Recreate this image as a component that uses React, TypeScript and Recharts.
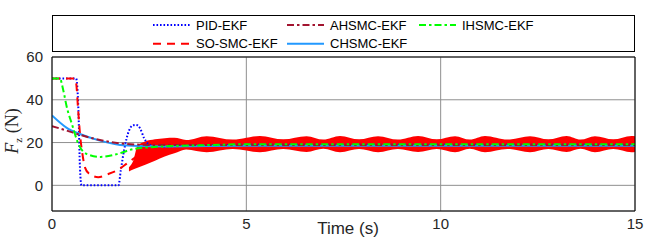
import React from "react";
import { ComposedChart, Line, Area, XAxis, YAxis, CartesianGrid, ReferenceLine } from "recharts";

// ---- axis ticks ----
const X_TICKS = [0, 5, 10, 15];
const Y_TICKS = [0, 20, 40, 60];

// ---- PID-EKF ----
const pidT = [0, 0.62, 0.68, 0.72, 0.76, 1.71, 1.77, 1.86, 1.98, 2.07, 2.16, 2.27, 2.37, 2.47, 2.6, 2.8, 3.2, 4.0, 6.0, 15];
const pidV = [50, 50, 35, 8, 0, 0, 7, 17, 25.5, 28, 28.3, 26.5, 22, 19.5, 18.3, 17.9, 18.3, 18.8, 19, 19];

// ---- SO-SMC-EKF (dashed part) ----
const soT = [0, 0.58, 0.62, 0.67, 0.72, 0.78, 0.85, 0.95, 1.19, 1.45, 1.7, 1.95, 2.2, 2.5, 2.8, 3.2];
const soV = [50, 50, 48, 36, 24, 15, 8.3, 5.5, 3.8, 5.3, 7.3, 10.5, 13.8, 16.5, 18, 18.8];

// ---- SO-SMC-EKF chattering envelope ----
const bandT = [1.98, 2.1, 2.2, 2.4, 2.65, 2.9, 3.15, 3.45, 3.98, 4.65, 5.35, 5.95, 6.55, 6.98, 7.41, 7.9, 8.39, 8.9, 9.42, 9.9, 10.37, 10.75, 11.14, 11.72, 12.3, 12.77, 13.24, 13.6, 13.97, 14.44, 14.91, 15];
const bandLo = [6.5, 7.5, 8.2, 9.6, 11.5, 13.5, 15.0, 16.8, 15.5, 17.0, 15.5, 17.0, 15.6, 17.1, 15.5, 17.0, 15.5, 17.0, 15.6, 17.0, 15.5, 17.1, 15.5, 17.0, 15.5, 17.0, 15.6, 17.1, 15.5, 17.0, 15.5, 15.6];
const bandHi = [8.5, 12.0, 18.5, 20.5, 21.5, 22.0, 22.2, 21.2, 23.0, 21.4, 23.1, 21.5, 23.0, 21.4, 23.1, 21.5, 23.0, 21.4, 23.1, 21.5, 23.0, 21.4, 23.1, 21.4, 23.0, 21.5, 23.1, 21.4, 23.0, 21.5, 23.1, 23.0];

// ---- IHSMC-EKF ----
const ihT = [0, 0.2, 0.29, 0.38, 0.51, 0.68, 0.9, 1.24, 1.67, 2.1, 2.7, 3.8, 5, 15];
const ihV = [50, 50, 44.5, 36.6, 28.8, 19.3, 14.6, 13.3, 14.6, 17, 18, 18.7, 19.2, 19.2];

// ---- CHSMC-EKF ----
const chT = [0, 0.38, 0.72, 1.23, 1.75, 2.27, 3, 5, 15];
const chV = [32.7, 26.9, 24, 20.9, 18.9, 18.4, 18.2, 18.5, 18.5];

// ---- AHSMC-EKF ----
const ahT = [0, 0.38, 0.72, 1.23, 1.75, 2.3, 3, 15];
const ahV = [27.7, 25.6, 23.6, 21.2, 19.6, 19, 18.8, 18.8];

const zip = (ts: number[], vs: number[]) => ts.map((t, i) => ({ t, v: vs[i] }));
const bandData = bandT.map((t, i) => ({ t, band: [bandLo[i], bandHi[i]] }));

const FONT = "'Liberation Sans', Arial, sans-serif";

const legendItems = [
  { name: "PID-EKF", color: "#0000ff", dash: "1.6 1.9", row: 0, col: 0 },
  { name: "AHSMC-EKF", color: "#a2142f", dash: "7 3 2.5 3", row: 0, col: 1 },
  { name: "IHSMC-EKF", color: "#00ff00", dash: "7 3 2.5 3", row: 0, col: 2 },
  { name: "SO-SMC-EKF", color: "#ff0000", dash: "8 6", row: 1, col: 0 },
  { name: "CHSMC-EKF", color: "#2299ff", dash: "", row: 1, col: 1 },
];
const colX = [153, 287, 419];
const rowY = [25, 43.7];

export default function App() {
  return (
    <div style={{ position: "absolute", left: 0, top: 0, width: 646, height: 242, background: "#fff" }}>
      <ComposedChart width={646} height={242} margin={{ top: 57, right: 11, bottom: 0, left: 0 }}>
        <CartesianGrid stroke="#8f8f8f" strokeWidth={1} />
        <XAxis
          dataKey="t"
          type="number"
          domain={[0, 15]}
          ticks={X_TICKS}
          allowDataOverflow
          tickLine={false}
          tickSize={0}
          tickMargin={7}
          height={31}
          axisLine={{ stroke: "#000" }}
          tick={{ fill: "#262626", fontSize: 15, fontFamily: FONT }}
          label={{
            content: () => (
              <text x={348} y={234} textAnchor="middle" fontSize={17} fontFamily={FONT} fill="#262626">
                Time (s)
              </text>
            ),
          }}
        />
        <YAxis
          type="number"
          domain={[-12, 60]}
          ticks={Y_TICKS}
          allowDataOverflow
          tickLine={false}
          tickSize={0}
          tickMargin={9}
          width={52}
          axisLine={{ stroke: "#000" }}
          tick={{ fill: "#262626", fontSize: 15, fontFamily: FONT }}
          label={{
            content: () => (
              <text
                x={18}
                y={131}
                transform="rotate(-90, 18, 131)"
                textAnchor="middle"
                fontSize={18}
                fontFamily="'Liberation Serif', 'Times New Roman', serif"
                fill="#262626"
              >
                <tspan fontStyle="italic">F</tspan>
                <tspan fontSize={11} dy={4}>z</tspan>
                <tspan dy={-4}> (N)</tspan>
              </text>
            ),
          }}
        />
        <Area data={bandData} dataKey="band" type="monotone" stroke="none" fill="#ff0000" fillOpacity={1} isAnimationActive={false} activeDot={false} />
        <Line data={zip(pidT, pidV)} dataKey="v" type="monotone" stroke="#0000ff" strokeWidth={2} strokeDasharray="1.6 1.9" dot={false} activeDot={false} isAnimationActive={false} />
        <Line data={zip(soT, soV)} dataKey="v" type="monotone" stroke="#ff0000" strokeWidth={2} strokeDasharray="8 6" dot={false} activeDot={false} isAnimationActive={false} />
        <Line data={zip(chT, chV)} dataKey="v" type="monotone" stroke="#2299ff" strokeWidth={2} dot={false} activeDot={false} isAnimationActive={false} />
        <Line data={zip(ahT, ahV)} dataKey="v" type="monotone" stroke="#a2142f" strokeWidth={2} strokeDasharray="7 3 2.5 3" dot={false} activeDot={false} isAnimationActive={false} />
        <Line data={zip(ihT, ihV)} dataKey="v" type="monotone" stroke="#00ff00" strokeWidth={2} strokeDasharray="7 3 2.5 3" dot={false} activeDot={false} isAnimationActive={false} />
        <ReferenceLine y={60} stroke="#000" strokeWidth={1} />
        <ReferenceLine x={15} stroke="#000" strokeWidth={1} />
      </ComposedChart>
      <div
        style={{
          position: "absolute",
          left: 52,
          top: 15,
          width: 583,
          height: 37,
          border: "1px solid #000",
          boxSizing: "border-box",
          background: "#fff",
        }}
      />
      <svg width={646} height={60} style={{ position: "absolute", left: 0, top: 0 }}>
        {legendItems.map((it) => (
          <g key={it.name}>
            <line
              x1={colX[it.col]}
              x2={colX[it.col] + 37}
              y1={rowY[it.row]}
              y2={rowY[it.row]}
              stroke={it.color}
              strokeWidth={2}
              strokeDasharray={it.dash || undefined}
            />
            <text x={colX[it.col] + 43} y={rowY[it.row] + 4.7} fontSize={13} fontFamily={FONT} fill="#000">
              {it.name}
            </text>
          </g>
        ))}
      </svg>
    </div>
  );
}
